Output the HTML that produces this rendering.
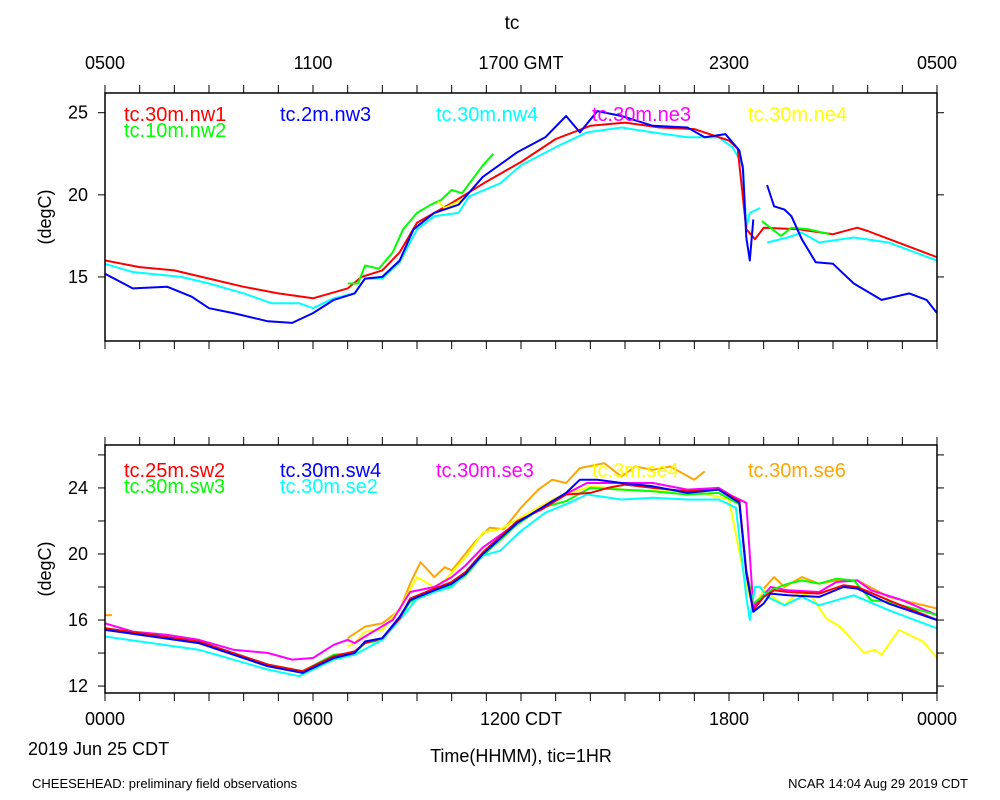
<!DOCTYPE html>
<html><head><meta charset="utf-8"><style>
html,body{margin:0;padding:0;background:#fff;}
svg{display:block;font-family:"Liberation Sans",sans-serif;}
</style></head><body>
<svg id="chart" width="1000" height="800" viewBox="0 0 1000 800">
<text x="512" y="29" font-size="19" text-anchor="middle">tc</text>
<g id="topAxis" font-size="18" text-anchor="middle">
<text x="105" y="69">0500</text><text x="313" y="69">1100</text><text x="521" y="69">1700 GMT</text><text x="729" y="69">2300</text><text x="937" y="69">0500</text>
</g>
<g font-size="18" text-anchor="middle">
<text x="105" y="725">0000</text><text x="313" y="725">0600</text><text x="521" y="725">1200 CDT</text><text x="729" y="725">1800</text><text x="937" y="725">0000</text>
</g>
<text x="28" y="755" font-size="18">2019 Jun 25 CDT</text>
<text x="521" y="762" font-size="18" text-anchor="middle">Time(HHMM), tic=1HR</text>
<text x="32" y="788" font-size="13">CHEESEHEAD: preliminary field observations</text>
<text x="968" y="788" font-size="13" text-anchor="end">NCAR 14:04 Aug 29 2019 CDT</text>
<text transform="translate(51,217) rotate(-90)" font-size="18" text-anchor="middle">(degC)</text>
<text transform="translate(51,569) rotate(-90)" font-size="18" text-anchor="middle">(degC)</text>
</svg>
<script>
// ---- top panel data ----
const nw1Hours=[0,1,2,3,4,5,6,7,7.4,8,8.5,9,10,11,12,13,14,15,16,17,18,18.25,18.5,18.75,19,20,21,21.7,22,23,24];
const nw1Temps=[16.0,15.6,15.4,14.9,14.4,14.0,13.7,14.3,15.0,15.4,16.5,18.3,19.5,20.8,22.0,23.4,24.2,24.4,24.1,24.0,23.3,22.8,17.9,17.3,18.0,17.9,17.6,18.0,17.8,17.0,16.2];
const nw3Hours=[0,0.8,1.8,2.5,3,3.7,4.7,5.4,6,6.6,7.2,7.5,8,8.5,8.9,9.5,10.2,10.9,11.9,12.7,13.3,13.7,14.2,14.9,15.8,16.8,17.3,17.9,18.3,18.4,18.5,18.6,18.7,18.9,19.1,19.3,19.6,19.8,20.1,20.5,21,21.6,22.4,23.2,23.7,24];
const nw3Temps=[15.2,14.3,14.4,13.8,13.1,12.8,12.3,12.2,12.8,13.6,14.0,14.9,15.0,16.0,17.9,18.9,19.4,21.1,22.6,23.5,24.8,23.8,25.1,24.8,24.2,24.1,23.5,23.7,22.7,21.6,17.4,16.0,18.5,null,20.6,19.3,19.1,18.7,17.3,15.9,15.8,14.6,13.6,14.0,13.6,12.8];
const nw4Hours=[0,0.8,2.2,3,4,4.8,5.6,6,6.6,7.2,7.5,8,8.5,9,9.5,10.2,10.5,11.4,12,13,13.9,14.9,15.8,16.8,17.7,18.1,18.4,18.5,18.6,18.9,19,19.1,19.7,20.1,20.6,21.6,22.6,24];
const nw4Temps=[15.8,15.3,15.0,14.6,14.0,13.4,13.4,13.1,13.7,14.0,14.9,14.9,15.9,17.9,18.7,18.9,19.9,20.7,21.8,22.9,23.8,24.1,23.8,23.5,23.5,22.9,21.8,18.0,18.9,19.2,null,17.1,17.4,17.7,17.1,17.4,17.1,16.0];
const nw2Hours=[7,7.3,7.5,7.9,8.3,8.6,9,9.4,9.7,10,10.3,10.9,11.2,11.3,18.95,19.5,19.8,20.3,20.9];
const nw2Temps=[14.6,14.6,15.7,15.5,16.5,17.9,18.9,19.4,19.7,20.3,20.1,21.8,22.5,null,18.4,17.5,18.0,17.9,17.6];
const ne4Hours=[9.6,9.8,10.4];
const ne4Temps=[19.6,19.2,19.8];
// ---- bottom panel data ----
const se3Hours=[0,0.8,1.8,2.7,3.7,4.7,5.4,6,6.6,7,7.2,7.5,8.3,8.8,9.5,10,10.4,10.9,11.9,12.9,13.9,14.9,15.8,16.8,17.7,18.1,18.5,18.7,19.2,19.7,20.6,21.1,21.7,22.1,23,24];
const se3Temps=[15.8,15.3,15.1,14.8,14.2,14.0,13.6,13.7,14.5,14.8,14.6,15.0,16.0,17.7,18.0,18.6,19.3,20.4,21.9,23.2,24.3,24.3,24.3,23.9,24.0,23.5,23.1,16.8,18.0,17.8,17.7,18.3,18.4,17.8,17.2,16.3];
const sw4Hours=[0,2.7,4.7,5.7,6.6,7.2,7.5,8,8.5,8.8,9.5,10,10.4,10.9,11.9,12.6,13.3,13.7,14.2,14.9,15.8,16.8,17.7,18.3,18.5,18.7,19,19.2,19.7,20.6,21.3,21.7,22.6,24];
const sw4Temps=[15.4,14.6,13.2,12.8,13.7,14.0,14.7,14.9,16.2,17.2,17.8,18.2,18.8,20.0,21.9,22.8,23.7,24.5,24.5,24.3,24.1,23.7,23.9,23.1,18.8,16.5,17.0,17.6,17.5,17.4,18.0,17.9,17.0,16.0];
const sw2Hours=[0,2.7,4.7,5.7,6.6,7.2,7.5,8,8.5,8.8,9.5,10,10.4,10.9,11.9,12.6,13.3,14.0,14.5,15,15.8,16.8,17.7,18.3,18.5,18.7,19,19.3,19.7,20.6,21.3,21.7,22.6,24];
const sw2Temps=[15.5,14.7,13.3,12.9,13.8,14.1,14.6,14.9,16.1,17.3,17.9,18.3,18.9,20.1,22.0,22.7,23.6,23.7,24.0,24.2,24.0,23.8,23.9,23.2,19.0,16.6,17.4,17.8,17.7,17.6,18.1,18.0,17.2,16.0];
const sw3Hours=[0,2.7,4.7,5.7,6.6,7.2,7.5,8,8.5,8.8,9.5,10,10.4,10.9,11.9,12.6,13.3,14.0,14.9,15.8,16.8,17.7,18.3,18.5,18.7,19.2,19.7,20.1,20.6,21.1,21.6,22.1,22.6,23.5,24];
const sw3Temps=[15.5,14.7,13.3,12.9,13.9,14.0,14.6,14.8,16.1,17.1,17.7,18.1,18.7,19.9,21.8,22.8,23.2,24.0,23.9,23.8,23.6,23.7,23.0,19.0,17.0,17.8,18.2,18.4,18.2,18.5,18.4,17.2,17.1,16.6,16.3];
const se2Hours=[0,2.7,4.7,5.6,6.6,7.2,8,8.5,9,9.5,10,10.4,10.9,11.4,12,12.7,13.4,13.9,14.9,15.8,16.8,17.7,18.2,18.5,18.6,18.75,18.9,19.1,19.6,20.1,20.6,21.6,22.6,24];
const se2Temps=[15.0,14.2,13.0,12.6,13.6,13.9,14.8,16.0,17.3,17.7,18.0,18.8,19.9,20.2,21.4,22.5,23.1,23.6,23.3,23.4,23.3,23.3,22.8,17.4,16.0,18.0,18.0,17.4,16.9,17.4,16.9,17.5,16.6,15.5];
const se6Hours=[0,0.2,0.3,7,7.5,8,8.5,8.8,9.1,9.5,9.8,10,10.7,11.1,11.5,12,12.5,12.9,13.3,13.7,14.4,14.9,15.3,15.8,16.3,17,17.3,17.4,19,19.3,19.6,20.1,20.6,21.1,21.7,22.6,24];
const se6Temps=[16.3,16.3,null,14.9,15.6,15.8,16.6,18.2,19.5,18.6,19.2,19.0,20.8,21.6,21.5,22.8,23.9,24.5,24.3,25.2,25.5,24.7,25.3,25.1,25.3,24.5,25.0,null,17.9,18.6,18.0,18.6,18.2,18.4,18.4,17.4,16.7];
const se4Hours=[0,0.3,0.4,7,7.2,7.5,8,8.5,9,9.5,9.8,10.4,10.9,11.4,11.9,13,14,15,16,17,18,18.5,18.7,19,19.6,20,20.4,20.8,21.2,21.9,22.2,22.4,22.9,23.6,24];
const se4Temps=[15.4,15.3,null,14.4,14.6,15.3,15.4,16.7,18.6,18.0,18.4,19.8,21.3,21.5,22.1,23.4,24.1,23.9,23.8,23.8,23.3,18.0,16.8,17.8,16.9,17.7,17.4,16.1,15.6,14.0,14.2,13.9,15.4,14.7,13.7];

const NS="http://www.w3.org/2000/svg";
const svg=document.getElementById('chart');
const X0=105,X1=937;
function xScale(h){return X0+(X1-X0)*h/24;}
function mk(tag,attrs,parent){const e=document.createElementNS(NS,tag);for(const k in attrs)e.setAttribute(k,attrs[k]);(parent||svg).appendChild(e);return e;}

function panel(name,top,bottom,yMin,yMax,yTicks,yLabels,series,legend){
  const yScale=v=>bottom-(v-yMin)/(yMax-yMin)*(bottom-top);
  const g=mk('g',{});
  
  
  const clip=mk('clipPath',{id:name+'-clip'},g);
  mk('rect',{x:X0,y:top,width:X1-X0,height:bottom-top},clip);
  for(let h=0;h<=24;h++){
    const x=xScale(h);
    const t1=mk('line',{x1:x,y1:top,x2:x,y2:top-8,stroke:'#000','stroke-width':1},g);
    
    
    const t2=mk('line',{x1:x,y1:bottom,x2:x,y2:bottom+8,stroke:'#000','stroke-width':1},g);
    
    
  }
  yTicks.forEach(v=>{
    const y=yScale(v);
    mk('line',{x1:X0,y1:y,x2:X0-7,y2:y,stroke:'#000'},g);
    mk('line',{x1:X1,y1:y,x2:X1+7,y2:y,stroke:'#000'},g);
  });
  yLabels.forEach(v=>{
    const t=mk('text',{x:88,y:yScale(v)+6,'font-size':18,'text-anchor':'end'},g);
    t.textContent=v;
    
    
  });
  series.forEach(s=>{
    let d='',pen=false;
    for(let i=0;i<s.hours.length;i++){
      const v=s.temps[i];
      if(v===null||v===undefined){pen=false;continue;}
      d+=(pen?'L':'M')+xScale(s.hours[i]).toFixed(1)+','+yScale(v).toFixed(1);
      pen=true;
    }
    const p=mk('path',{d:d,fill:'none',stroke:s.color,'stroke-width':2,'stroke-linejoin':'round','clip-path':'url(#'+name+'-clip)'},g);
    
    
  });
  const frame=mk('rect',{x:X0,y:top,width:X1-X0,height:bottom-top,fill:'none',stroke:'#000','stroke-width':1.5},g);
  
  
  legend.forEach(l=>{
    const t=mk('text',{x:l.x,y:top+l.dy,'font-size':20,fill:l.color},g);
    t.textContent=l.text;
    
    
  });
}

panel('top-panel',93,341,11.1,26.2,[15,20,25],[15,20,25],[
  {id:'nw4',hours:nw4Hours,temps:nw4Temps,color:'#00ffff'},
  {id:'nw1',hours:nw1Hours,temps:nw1Temps,color:'#ff0000'},
  {id:'nw2',hours:nw2Hours,temps:nw2Temps,color:'#00ff00'},
  {id:'ne4',hours:ne4Hours,temps:ne4Temps,color:'#ffff00'},
  {id:'nw3',hours:nw3Hours,temps:nw3Temps,color:'#0000ff'}
],[
  {text:'tc.30m.nw1',x:124,dy:28,color:'#ff0000'},
  {text:'tc.10m.nw2',x:124,dy:44,color:'#00ff00'},
  {text:'tc.2m.nw3',x:280,dy:28,color:'#0000ff'},
  {text:'tc.30m.nw4',x:436,dy:28,color:'#00ffff'},
  {text:'tc.30m.ne3',x:592,dy:28,color:'#ff00ff'},
  {text:'tc.30m.ne4',x:748,dy:28,color:'#ffff00'}
]);

panel('bottom-panel',445,693,11.58,26.6,[12,14,16,18,20,22,24,26],[12,16,20,24],[
  {id:'se6',hours:se6Hours,temps:se6Temps,color:'#ffa500'},
  {id:'se4',hours:se4Hours,temps:se4Temps,color:'#ffff00'},
  {id:'se3',hours:se3Hours,temps:se3Temps,color:'#ff00ff'},
  {id:'sw3',hours:sw3Hours,temps:sw3Temps,color:'#00ff00'},
  {id:'se2',hours:se2Hours,temps:se2Temps,color:'#00ffff'},
  {id:'sw2',hours:sw2Hours,temps:sw2Temps,color:'#ff0000'},
  {id:'sw4',hours:sw4Hours,temps:sw4Temps,color:'#0000ff'}
],[
  {text:'tc.25m.sw2',x:124,dy:32,color:'#ff0000'},
  {text:'tc.30m.sw3',x:124,dy:48,color:'#00ff00'},
  {text:'tc.30m.sw4',x:280,dy:32,color:'#0000ff'},
  {text:'tc.30m.se2',x:280,dy:48,color:'#00ffff'},
  {text:'tc.30m.se3',x:436,dy:32,color:'#ff00ff'},
  {text:'tc.3m.se4',x:592,dy:32,color:'#ffff00'},
  {text:'tc.30m.se6',x:748,dy:32,color:'#ffa500'}
]);
</script>
</body></html>
